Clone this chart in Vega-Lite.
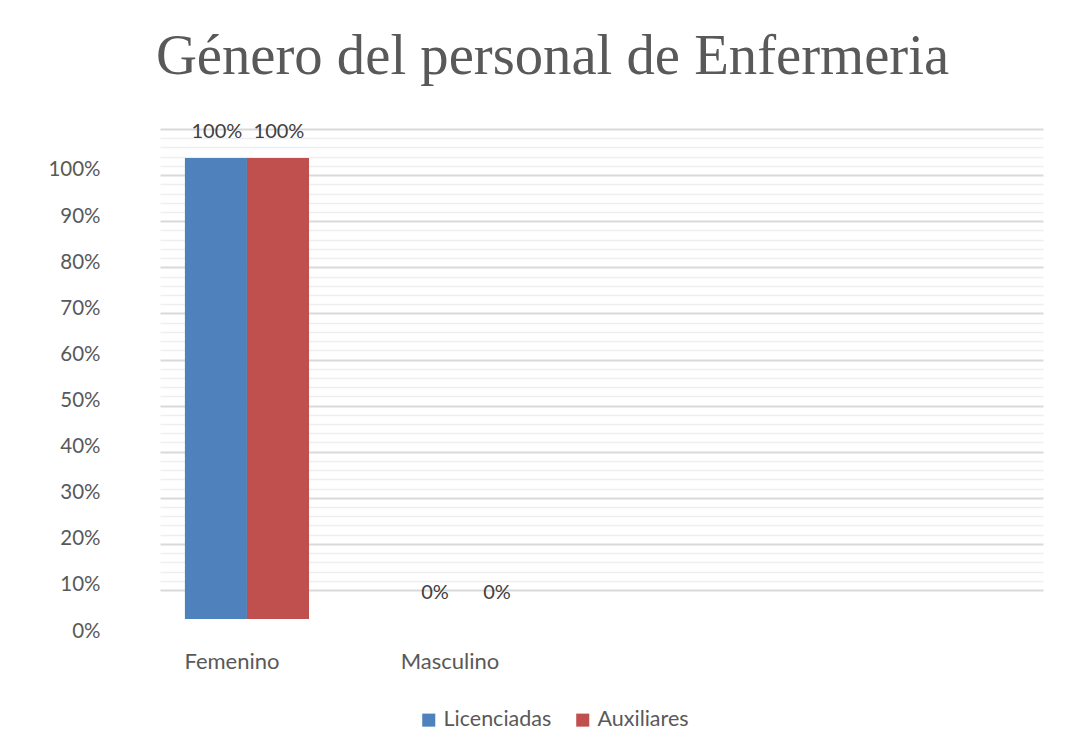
{
  "$schema": "https://vega.github.io/schema/vega-lite/v6.json",
  "width": 883,
  "height": 490,
  "autosize": {"type": "none"},
  "padding": {"left": 160, "top": 129, "right": 46, "bottom": 135},
  "background": "white",
  "config": {"view": {"stroke": null}, "font": "Lato"},
  "title": {
    "text": "Género del personal de Enfermeria",
    "font": "Liberation Serif",
    "fontSize": 56.7,
    "fontWeight": "normal",
    "color": "#595959",
    "frame": "group",
    "anchor": "middle",
    "baseline": "alphabetic",
    "offset": -9,
    "dx": -49
  },
  "data": {
    "values": [
      {"genero": "Femenino", "serie": "Licenciadas", "valor": 1},
      {"genero": "Femenino", "serie": "Auxiliares", "valor": 1},
      {"genero": "Masculino", "serie": "Licenciadas", "valor": 0},
      {"genero": "Masculino", "serie": "Auxiliares", "valor": 0}
    ]
  },
  "encoding": {
    "x": {
      "field": "genero",
      "type": "nominal",
      "sort": null,
      "scale": {"domain": ["Femenino", "Masculino", " ", "  "], "paddingInner": 0.431, "paddingOuter": 0.24, "align": 0.238},
      "axis": {"title": null, "labelAngle": 0, "ticks": false, "domain": false, "labelFont": "Lato", "labelFontSize": 22, "labelColor": "#595959", "labelPadding": 32, "labelOffset": -15}
    },
    "xOffset": {"field": "serie", "type": "nominal", "scale": {"domain": ["Licenciadas", "Auxiliares"], "paddingInner": 0, "paddingOuter": 0}}
  },
  "layer": [
    {
      "layer": [
        {
          "mark": {"type": "bar"},
          "encoding": {
            "y": {
              "field": "valor",
              "type": "quantitative",
              "scale": {"domain": [0, 1.0629], "nice": false, "zero": false},
              "axis": {"title": null, "values": [0, 0.1, 0.2, 0.3, 0.4, 0.5, 0.6, 0.7, 0.8, 0.9, 1], "format": ".0%", "grid": false, "ticks": false, "domain": false, "labelFont": "Lato", "labelFontSize": 20.5, "labelColor": "#595959", "labelPadding": 60, "labelOffset": 12, "orient": "left"}
            },
            "color": {
              "field": "serie",
              "type": "nominal",
              "scale": {"domain": ["Licenciadas", "Auxiliares"], "range": ["#4f81bd", "#c0504d"]},
              "legend": {"title": null, "orient": "none", "direction": "horizontal", "legendX": 258, "legendY": 580, "symbolType": "square", "symbolSize": 170, "symbolStrokeWidth": 0, "labelFont": "Lato", "labelFontSize": 21.5, "labelColor": "#595959", "columnPadding": 20, "labelOffset": 4}
            }
          }
        },
        {
          "mark": {"type": "text", "dy": -26, "baseline": "middle", "fontSize": 20, "font": "Lato", "color": "#404040", "dx": 1},
          "encoding": {
            "y": {"field": "valor", "type": "quantitative", "scale": {"domain": [0, 1.0629], "nice": false, "zero": false}},
            "text": {"field": "valor", "type": "quantitative", "format": ".0%"}
          }
        }
      ]
    },
    {
      "mark": {"type": "rule", "opacity": 0},
      "encoding": {
        "y": {
          "field": "valor",
          "type": "quantitative",
          "scale": {"domain": [-0.0629, 1], "nice": false, "zero": false},
          "axis": {
            "title": null,
            "orient": "right",
            "labels": false,
            "ticks": false,
            "domain": false,
            "grid": true,
            "values": [0, 0.02, 0.04, 0.06, 0.08, 0.1, 0.12, 0.14, 0.16, 0.18, 0.2, 0.22, 0.24, 0.26, 0.28, 0.3, 0.32, 0.34, 0.36, 0.38, 0.4, 0.42, 0.44, 0.46, 0.48, 0.5, 0.52, 0.54, 0.56, 0.58, 0.6, 0.62, 0.64, 0.66, 0.68, 0.7, 0.72, 0.74, 0.76, 0.78, 0.8, 0.82, 0.84, 0.86, 0.88, 0.9, 0.92, 0.94, 0.96, 0.98, 1],
            "gridColor": {"condition": {"test": "round(datum.value * 100) % 10 === 0", "value": "#d9d9d9"}, "value": "#efefef"},
            "gridWidth": {"condition": {"test": "round(datum.value * 100) % 10 === 0", "value": 2}, "value": 1.5}
          }
        }
      }
    }
  ],
  "resolve": {"scale": {"y": "independent"}, "axis": {"y": "independent"}}
}
